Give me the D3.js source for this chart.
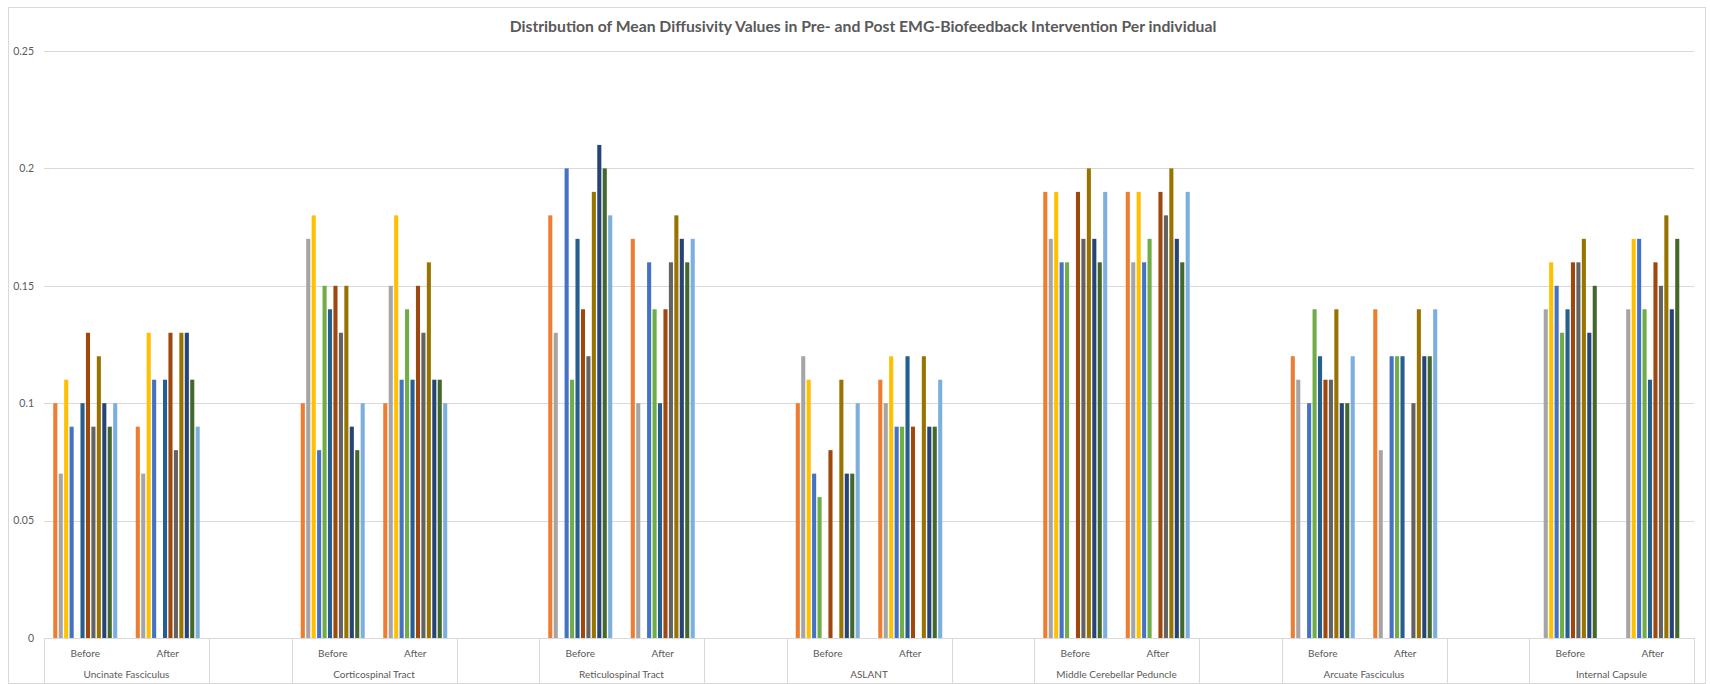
<!DOCTYPE html>
<html>
<head>
<meta charset="utf-8">
<script src="https://cdn.jsdelivr.net/npm/d3@7/dist/d3.min.js"></script>
<style>
  html, body { margin: 0; padding: 0; background: #fff; }
  svg { display: block; font-family: Lato, "Open Sans", sans-serif; }
</style>
</head>
<body>
<svg id="chart" width="1710" height="684"></svg>
<script>
// ---------------- data ----------------
const title = "Distribution of Mean Diffusivity Values in Pre- and Post EMG-Biofeedback Intervention Per individual";
const groups = ["Uncinate Fasciculus", "Corticospinal Tract", "Reticulospinal Tract", "ASLANT",
                "Middle Cerebellar Peduncle", "Arcuate Fasciculus", "Internal Capsule"];
const phases = ["Before", "After"];
const yTicks = [0, 0.05, 0.1, 0.15, 0.2, 0.25];
const yTickLabels = ["0", "0.05", "0.1", "0.15", "0.2", "0.25"];
const seriesNames = ["Individual 1", "Individual 2", "Individual 3", "Individual 4", "Individual 5", "Individual 6",
                     "Individual 7", "Individual 8", "Individual 9", "Individual 10", "Individual 11", "Individual 12"];
const seriesColors = ["#ED7D31", "#A5A5A5", "#FFC000", "#4472C4", "#70AD47", "#255E91",
                      "#9E480E", "#636363", "#997300", "#264478", "#43682B", "#7CAFDD"];
// values in order: UF-B, UF-A, CST-B, CST-A, RST-B, RST-A, ASLANT-B, ASLANT-A, MCP-B, MCP-A, AF-B, AF-A, IC-B, IC-A
const individual1  = [0.10, 0.09, 0.10, 0.10, 0.18, 0.17, 0.10, 0.11, 0.19, 0.19, 0.12, 0.14, null, null];
const individual2  = [0.07, 0.07, 0.17, 0.15, 0.13, 0.10, 0.12, 0.10, 0.17, 0.16, 0.11, 0.08, 0.14, 0.14];
const individual3  = [0.11, 0.13, 0.18, 0.18, null, null, 0.11, 0.12, 0.19, 0.19, null, null, 0.16, 0.17];
const individual4  = [0.09, 0.11, 0.08, 0.11, 0.20, 0.16, 0.07, 0.09, 0.16, 0.16, 0.10, 0.12, 0.15, 0.17];
const individual5  = [null, null, 0.15, 0.14, 0.11, 0.14, 0.06, 0.09, 0.16, 0.17, 0.14, 0.12, 0.13, 0.14];
const individual6  = [0.10, 0.11, 0.14, 0.11, 0.17, 0.10, null, 0.12, null, null, 0.12, 0.12, 0.14, 0.11];
const individual7  = [0.13, 0.13, 0.15, 0.15, 0.14, 0.14, 0.08, 0.09, 0.19, 0.19, 0.11, null, 0.16, 0.16];
const individual8  = [0.09, 0.08, 0.13, 0.13, 0.12, 0.16, null, null, 0.17, 0.18, 0.11, 0.10, 0.16, 0.15];
const individual9  = [0.12, 0.13, 0.15, 0.16, 0.19, 0.18, 0.11, 0.12, 0.20, 0.20, 0.14, 0.14, 0.17, 0.18];
const individual10 = [0.10, 0.13, 0.09, 0.11, 0.21, 0.17, 0.07, 0.09, 0.17, 0.17, 0.10, 0.12, 0.13, 0.14];
const individual11 = [0.09, 0.11, 0.08, 0.11, 0.20, 0.16, 0.07, 0.09, 0.16, 0.16, 0.10, 0.12, 0.15, 0.17];
const individual12 = [0.10, 0.09, 0.10, 0.10, 0.18, 0.17, 0.10, 0.11, 0.19, 0.19, 0.12, 0.14, null, null];
const seriesValues = [individual1, individual2, individual3, individual4, individual5, individual6,
                      individual7, individual8, individual9, individual10, individual11, individual12];

// ---------------- layout ----------------
const W = 1710, H = 684;
const plot = { left: 44, right: 1694, top: 51, bottom: 638 };
const textColor = "#595959";
const gridColor = "#D9D9D9";

const svg = d3.select("#chart");

// outer chart border
svg.append("rect").attr("x", 8.5).attr("y", 7.5).attr("width", 1697).attr("height", 676)
  .attr("fill", "#fff").attr("stroke", gridColor).attr("stroke-width", 1);

// slots: Before, After, (blank) for each group, no blank after the last group
const slots = [];
groups.forEach((g, gi) => {
  phases.forEach((p, pi) => slots.push({ key: g + "|" + p, group: g, phase: p, idx: gi * 2 + pi }));
  if (gi < groups.length - 1) slots.push({ key: "blank" + gi, group: "", phase: "", idx: -1 });
});

const x0 = d3.scaleBand().domain(slots.map(s => s.key)).range([plot.left, plot.right]).padding(0);
const x1 = d3.scaleBand().domain(seriesNames).range([0, x0.bandwidth()])
  .paddingInner(0.25).paddingOuter(1.7);
const y = d3.scaleLinear().domain([0, 0.25]).range([plot.bottom, plot.top]);

// gridlines
svg.append("g").selectAll("line").data(yTicks).join("line")
  .attr("x1", plot.left).attr("x2", plot.right)
  .attr("y1", d => Math.round(y(d)) + 0.5).attr("y2", d => Math.round(y(d)) + 0.5)
  .attr("stroke", gridColor).attr("stroke-width", 1);

// y axis labels
const yAxis = d3.axisLeft(y).tickValues(yTicks).tickSize(0).tickPadding(0)
  .tickFormat((d, i) => yTickLabels[i]);
const yg = svg.append("g").attr("transform", `translate(34,0)`).call(yAxis);
yg.select(".domain").remove();
yg.selectAll("text").attr("fill", textColor).style("font-size", "10.5px")
  .style("font-family", "Lato, 'Open Sans', sans-serif");

// bars
const barData = [];
slots.forEach(s => {
  if (s.idx < 0) return;
  seriesNames.forEach((n, si) => {
    const v = seriesValues[si][s.idx];
    if (v !== null && v !== undefined) barData.push({ slot: s.key, series: n, color: seriesColors[si], value: v });
  });
});
svg.append("g").selectAll("rect").data(barData).join("rect")
  .attr("x", d => x0(d.slot) + x1(d.series))
  .attr("width", x1.bandwidth())
  .attr("y", d => y(d.value))
  .attr("height", d => y(0) - y(d.value))
  .attr("fill", d => d.color);

// baseline
svg.append("line").attr("x1", plot.left).attr("x2", plot.right)
  .attr("y1", Math.round(y(0)) + 0.5).attr("y2", Math.round(y(0)) + 0.5)
  .attr("stroke", gridColor);

// category axis: inner labels
const xg = svg.append("g");
xg.selectAll("text.phase").data(slots.filter(s => s.idx >= 0)).join("text")
  .attr("class", "phase")
  .attr("x", d => x0(d.key) + x0.bandwidth() / 2)
  .attr("y", 657)
  .attr("text-anchor", "middle")
  .attr("fill", textColor).style("font-size", "10px")
  .text(d => d.phase);

// outer labels
xg.selectAll("text.group").data(groups).join("text")
  .attr("class", "group")
  .attr("x", g => (x0(g + "|Before") + x0(g + "|After") + x0.bandwidth()) / 2)
  .attr("y", 678)
  .attr("text-anchor", "middle")
  .attr("fill", textColor).style("font-size", "10px")
  .text(g => g);

// separator lines at outer category boundaries
const bounds = [];
groups.forEach(g => {
  bounds.push(x0(g + "|Before"));
  bounds.push(x0(g + "|After") + x0.bandwidth());
});
xg.selectAll("line.sep").data(bounds).join("line")
  .attr("class", "sep")
  .attr("x1", d => Math.round(d) + 0.5).attr("x2", d => Math.round(d) + 0.5)
  .attr("y1", plot.bottom).attr("y2", 683)
  .attr("stroke", gridColor);

// title, fitted to reference width
const t = svg.append("text")
  .attr("x", 863).attr("y", 32)
  .attr("text-anchor", "middle")
  .attr("fill", textColor)
  .style("font-weight", "bold")
  .style("font-size", "14px")
  .text(title);
const targetW = 707;
const curW = t.node().getComputedTextLength();
if (curW > 0) t.style("font-size", (14 * targetW / curW).toFixed(2) + "px");
</script>
</body>
</html>
